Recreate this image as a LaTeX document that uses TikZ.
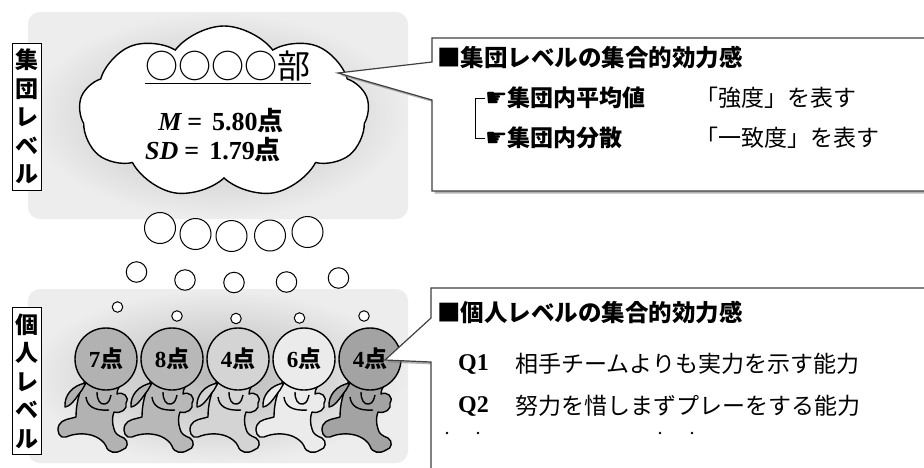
\documentclass[tikz,border=0pt]{standalone}
\usepackage{fontspec}
\usetikzlibrary{shapes.symbols,shadows}

\newfontfamily\jp{Noto Sans CJK JP}
\newfontfamily\num{Liberation Serif}
\newfontfamily\sym{DejaVu Sans}

% one running member: name, x of the head, fill, score
\newcommand{\runner}[4]{%
  \begin{scope}[shift={(#2,359)}]
    \draw[body, fill=#3] (-20,20) .. controls (-28,34) and (-30,48) .. (-30,58)
      .. controls (-36,60) and (-44,60) .. (-47,66)
      .. controls (-50,73) and (-46,80) .. (-40,78)
      .. controls (-31,74) and (-20,74) .. (-12,77)
      .. controls (-5,80) and (-2,83) .. (0,87)
      .. controls (2,94) and (10,95) .. (16,91)
      .. controls (22,90) and (23,82) .. (18,79)
      .. controls (13,77) and (9,75) .. (8,70)
      .. controls (6,64) and (6,58) .. (8,53)
      .. controls (15,55) and (22,50) .. (20,44)
      .. controls (24,38) and (17,32) .. (11,35)
      .. controls (11,30) and (14,26) .. (18,22) -- cycle; % body and legs
    \draw[body, fill=#3] (-20,24) .. controls (-33,26) and (-42,36) .. (-41,48)
      .. controls (-34,47) and (-29,37) .. (-24,31) -- cycle; % back
    \draw[body] (-9,33) .. controls (-9,41) and (-6,46) .. (-1,45)
      .. controls (3,44) and (4,40) .. (5,36); % arm
    \draw[body] (-20,38) .. controls (-19,47) and (-12,52) .. (3,51);
    \node[head, fill=#3] (#1) at (0,0) {#4{\jp\bfseries 点}}; % head with score
  \end{scope}}

\begin{document}
\begin{tikzpicture}[x=1pt, y=-1pt,
    every node/.style={inner sep=0pt, font=\jp},
    panel/.style={rounded corners=12pt, inner color=black!28, outer color=black!7},
    levelbox/.style={draw, fill=white, line width=1pt, minimum width=29pt, minimum height=147pt,
                     align=center, font=\jp\bfseries\fontsize{23}{28.5}\selectfont},
    bubble/.style={circle, draw, fill=white, line width=1pt},
    callout/.style={draw=black!75, fill=white, line width=1.2pt,
                    drop shadow={shadow xshift=2.5pt, shadow yshift=-2.5pt, opacity=.6}},
    body/.style={line width=1.4pt, line join=round},
    head/.style={circle, draw, line width=1.4pt, minimum size=62pt,
                 font=\num\bfseries\fontsize{23}{23}\selectfont},
    title/.style={anchor=west, font=\jp\bfseries\fontsize{23.5}{26}\selectfont},
    entry/.style={anchor=west, font=\jp\fontsize{23}{26}\selectfont},
    stat/.style={font=\num\bfseries\fontsize{26}{28}\selectfont}]

  \useasboundingbox (0,0) rectangle (924,467);
  \fill[white] (0,0) rectangle (924,467);

  % grey panels
  \shade[panel] (28,12) rectangle (408,219); % group level
  \shade[panel] (28,289) rectangle (408,463); % individual level

  % level labels
  \node[levelbox] (grouplab) at (26.5,116.5) {集\\団\\レ\\ベ\\ル};
  \node[levelbox] (perslab) at (26.5,381) {個\\人\\レ\\ベ\\ル};

  % the club as a cloud
  \node[cloud, cloud puffs=9, cloud puff arc=105, draw, fill=white, line width=1.4pt,
        minimum width=290pt, minimum height=172pt] (club) at (224,112) {};
  \node[font=\jp\fontsize{33}{36}\selectfont] (clubname) at (228,66) {○○○○部};
  \draw[line width=1.2pt] ([yshift=-2pt]clubname.south west) -- ([yshift=-2pt]clubname.south east);
  \node[stat] (mean) at (221,121) {{\itshape M}\kern6pt=\kern10pt 5.80{\jp\bfseries 点}};
  \node[stat] (sd) at (213,150) {{\itshape SD}\kern6pt=\kern10pt 1.79{\jp\bfseries 点}};

  % thought bubbles
  \foreach \n/\x/\y in {1/160/228, 2/195.5/234, 3/231.5/236, 4/270/235.5, 5/307.5/232}
    \node[bubble, minimum size=31pt] (big\n) at (\x,\y) {};
  \foreach \n/\x/\y in {1/136.5/272, 2/185/280, 3/234/282.5, 4/286.5/282, 5/338.5/278}
    \node[bubble, minimum size=20.5pt] (mid\n) at (\x,\y) {};
  \foreach \n/\x/\y in {1/117.5/307, 2/177/316, 3/236/318.5, 4/299.5/318, 5/364/316}
    \node[bubble, minimum size=10.5pt] (small\n) at (\x,\y) {};

  % members
  \runner{p1}{106}{black!30}{7}
  \runner{p2}{172}{black!28}{8}
  \runner{p3}{238}{black!17}{4}
  \runner{p4}{304}{black!8}{6}
  \runner{p5}{370}{black!36}{4}

  % group level callout
  \draw[callout] (432,38) -- (940,38) -- (940,191) -- (432,191) -- (432,100)
    -- (338,73) -- (432,62) -- cycle;
  \node[title] (grouphead) at (437,57) {■集団レベルの集合的効力感};
  \node[title, font=\jp\bfseries\fontsize{23}{26}\selectfont] (avg) at (485,98)
    {{\sym\fontsize{25}{25}\selectfont ☛}集団内平均値};
  \node[title, font=\jp\bfseries\fontsize{23}{26}\selectfont] (var) at (485,138)
    {{\sym\fontsize{25}{25}\selectfont ☛}集団内分散};
  \draw[line width=0.8pt] (avg.west) -- ++(-10,0) |- (var.west);
  \node[entry] (avgtxt) at (695,98) {「強度」を表す};
  \node[entry] (vartxt) at (695,138) {「一致度」を表す};

  % individual level callout
  \draw[callout] (431,288) -- (940,288) -- (940,490) -- (431,490) -- (431,362)
    -- (385,360) -- (431,318) -- cycle;
  \node[title] (pershead) at (437,312) {■個人レベルの集合的効力感};
  \node[anchor=west, font=\num\bfseries\fontsize{24}{26}\selectfont] (q1) at (458,364) {Q1};
  \node[entry] (q1txt) at (515,364) {相手チームよりも実力を示す能力};
  \node[anchor=west, font=\num\bfseries\fontsize{24}{26}\selectfont] (q2) at (458,406) {Q2};
  \node[entry] (q2txt) at (515,406) {努力を惜しまずプレーをする能力};
  \foreach \x in {447,478,660,692}
    \fill (\x,433) circle (1.3pt);

\end{tikzpicture}
\end{document}
